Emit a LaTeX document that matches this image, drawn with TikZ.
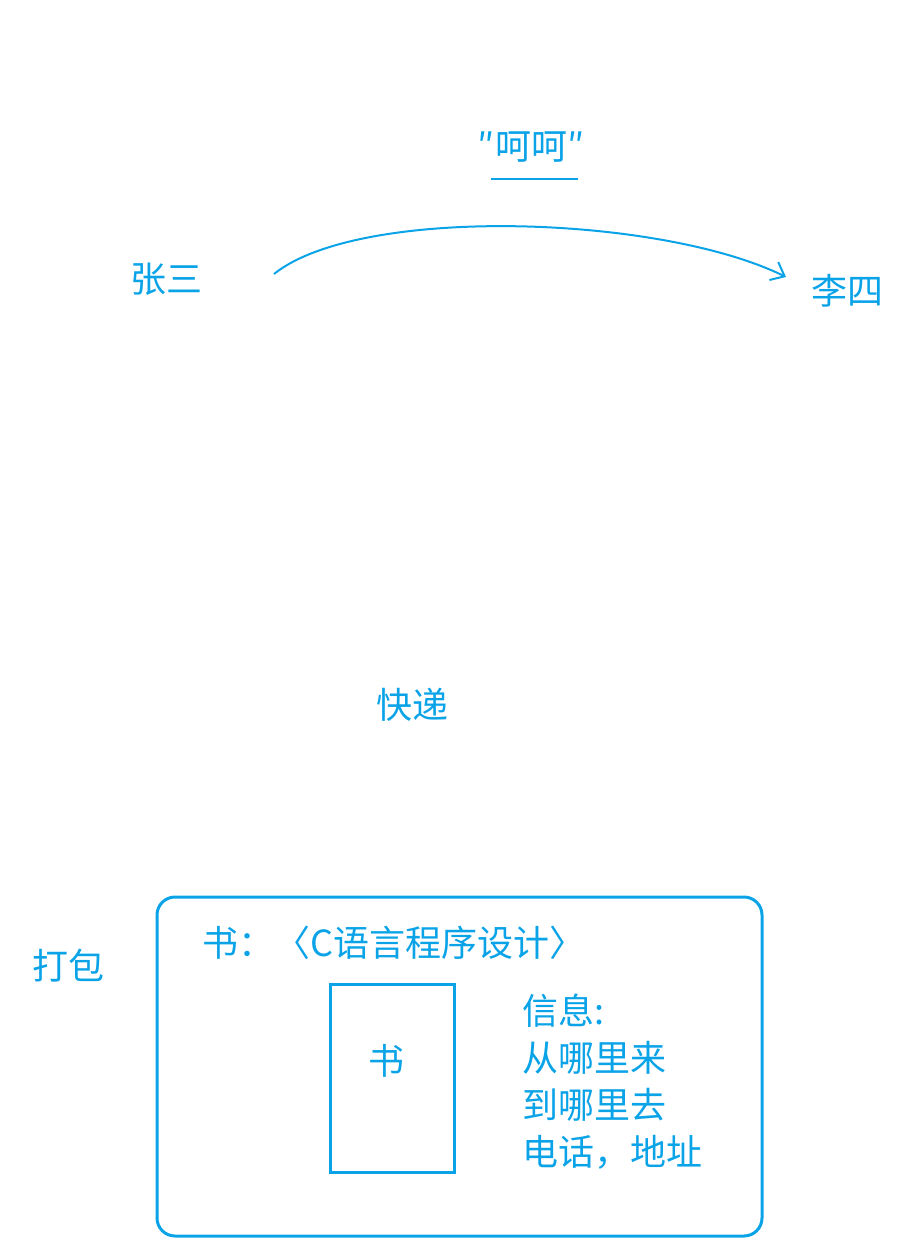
\documentclass[tikz,border=0pt]{standalone}
\usepackage{fontspec}
\newfontfamily\cjk{Noto Sans CJK SC}
\usetikzlibrary{arrows.meta}
\definecolor{pen}{RGB}{10,163,232}
\tikzset{
  lbl/.style={text=pen, font=\cjk\fontsize{36}{42}\selectfont, inner sep=0pt},
  pline/.style={draw=pen, line width=2pt},
  boxline/.style={draw=pen, line width=3pt}
}
\begin{document}
\begin{tikzpicture}[x=1pt,y=-1pt]
\useasboundingbox (0,0) rectangle (914,1250);
% top
\node[lbl] (zs) at (166,279) {张三};
\node[lbl] (ls) at (847,291) {李四};
\node[lbl] (hehe) at (531,147) {″呵呵″};
\coordinate (u1) at (491,179);
\coordinate (u2) at (578,179);
\draw[draw=pen, line width=1.5pt] (u1) -- (u2);
\coordinate (s) at (274,274);
\coordinate (e) at (786,277);
\draw[pline, -{Straight Barb[length=12pt, width=20pt]}] (s) .. controls (360,205) and (660,215) .. (e);
% middle
\node[lbl] (kd) at (412,705) {快递};
% bottom
\node[lbl] (db) at (68,966) {打包};
\node[boxline, rounded corners=18pt, minimum width=605pt, minimum height=339pt, inner sep=0pt] (pkg) at (459.5,1066.5) {};
\node[lbl, anchor=west] (title) at (202,943) {书：〈C语言程序设计〉};
\node[boxline, minimum width=124pt, minimum height=188pt, inner sep=0pt] (book) at (392.5,1078) {};
\node[lbl] (booktxt) at (386,1061) {书};
\node[lbl, anchor=west] (i1) at (522,1011) {信息:};
\node[lbl, anchor=west] (i2) at (522,1058) {从哪里来};
\node[lbl, anchor=west] (i3) at (522,1105) {到哪里去};
\node[lbl, anchor=west] (i4) at (522,1152) {电话，地址};
\end{tikzpicture}
\end{document}
